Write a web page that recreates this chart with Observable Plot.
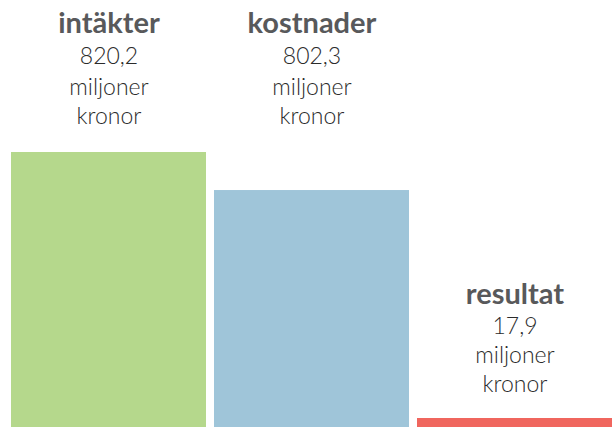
<!DOCTYPE html>
<html>
<head>
<meta charset="utf-8">
<script src="https://cdn.jsdelivr.net/npm/d3@7"></script>
<script src="https://cdn.jsdelivr.net/npm/@observablehq/plot@0.6"></script>
<style>
  html, body { margin: 0; padding: 0; background: #ffffff; }
  #chart svg { display: block; }
</style>
</head>
<body>
<div id="chart"></div>
<script>
const categories = ["intäkter", "kostnader", "resultat"];
const values = [820.2, 802.3, 17.9];
const colors = ["#b5d88c", "#9fc5d9", "#f0665e"];
const unitLine1 = "miljoner";
const unitLine2 = "kronor";

const data = categories.map((c, i) => ({
  category: c,
  value: values[i],
  label: values[i].toFixed(1).replace(".", ","),
  color: colors[i]
}));

const tallRows = data.filter(d => d.value > 100);
const lowRows = data.filter(d => d.value <= 100);

const font = "Lato, 'Noto Sans', sans-serif";
const titleColor = "#58595b";
const textColor = "#2b2b2b";

// broken (piecewise) value axis: small values keep a visible sliver,
// large values are compared above a cut-off
const brokenAxis = d3.scaleLinear().domain([0, 17.9, 695, 820.2]).range([0, 9, 9, 275]);

function labelMarks(rows, anchorOpts, offsets) {
  return [
    Plot.text(rows, {x: "category", ...anchorOpts, text: "category", dy: offsets[0],
      lineAnchor: "bottom", fontSize: 29, fontWeight: "bold", fill: titleColor}),
    Plot.text(rows, {x: "category", ...anchorOpts, text: "label", dy: offsets[1],
      lineAnchor: "bottom", fontSize: 23, fontWeight: 300, fill: textColor}),
    Plot.text(rows, {x: "category", ...anchorOpts, text: () => unitLine1, dy: offsets[2],
      lineAnchor: "bottom", fontSize: 23, fontWeight: 300, fill: textColor}),
    Plot.text(rows, {x: "category", ...anchorOpts, text: () => unitLine2, dy: offsets[3],
      lineAnchor: "bottom", fontSize: 23, fontWeight: 300, fill: textColor})
  ];
}

const chart = Plot.plot({
  width: 613,
  height: 427,
  marginTop: 0,
  marginBottom: 0,
  marginLeft: 10,
  marginRight: 0,
  style: {fontFamily: font, background: "#ffffff"},
  x: {domain: categories, paddingInner: 0.04, paddingOuter: 0, axis: null},
  y: {transform: brokenAxis, domain: [0, 427], axis: null},
  marks: [
    Plot.barY(data, {x: "category", y: "value", fill: "color"}),
    ...labelMarks(tallRows, {frameAnchor: "top"}, [32, 63, 94, 123]),
    ...labelMarks(lowRows, {y: "value"}, [-115, -85, -56, -27])
  ]
});

document.getElementById("chart").appendChild(chart);
</script>
</body>
</html>
